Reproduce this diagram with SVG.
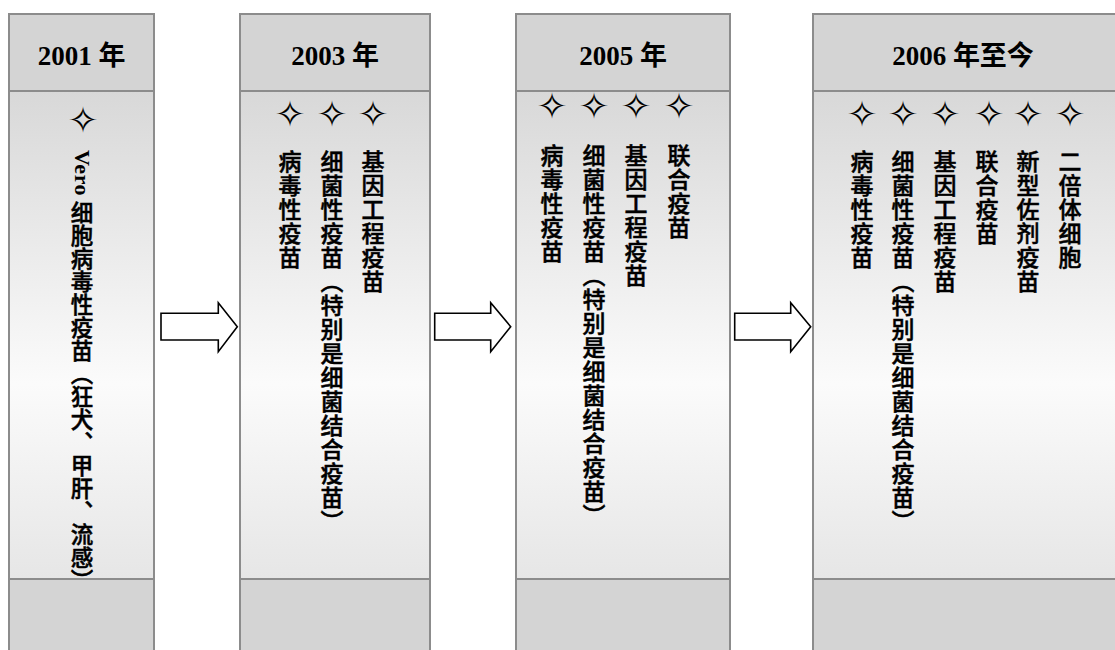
<svg xmlns="http://www.w3.org/2000/svg" width="1115" height="650" viewBox="0 0 1115 650">
  <defs>
    <linearGradient id="bodyGrad" x1="0" y1="0" x2="0" y2="1">
      <stop offset="0" stop-color="#d8d8d8"/>
      <stop offset="0.6" stop-color="#fbfbfb"/>
      <stop offset="1" stop-color="#e6e6e6"/>
    </linearGradient>
  </defs>
  <style>
    .hdr { fill: #d4d4d4; stroke: #8c8c8c; stroke-width: 2; }
    .body { fill: url(#bodyGrad); stroke: #8c8c8c; stroke-width: 2; }
    .foot { fill: #d4d4d4; stroke: #8c8c8c; stroke-width: 2; }
    .title { font-family: "Liberation Serif", "Noto Sans CJK SC", serif; font-weight: bold; font-size: 27px; fill: #000; text-anchor: middle; }
    .star { font-family: "DejaVu Sans", sans-serif; font-size: 37px; fill: #000; text-anchor: middle; dominant-baseline: central; }
    .v { font-family: "Noto Sans CJK SC", sans-serif; font-weight: 500; font-size: 23px; letter-spacing: 1px; fill: #000; stroke: #000; stroke-width: 0.5px; writing-mode: vertical-rl; }
    .v1 { font-size: 22.5px; letter-spacing: 0.5px; }
    .lat { font-family: "Liberation Serif", serif; font-weight: bold; font-size: 22px; stroke-width: 0; }
    .arrow { fill: #fff; stroke: #000; stroke-width: 1.6; stroke-linejoin: miter; }
  </style>

  <g id="col-2001">
    <rect class="foot" x="9" y="579" width="145" height="90"/>
    <rect class="body" x="9" y="91" width="145" height="488"/>
    <rect class="hdr" x="9" y="14" width="145" height="77"/>
    <text class="title" x="81.5" y="65">2001 年</text>
    <text class="star" x="83" y="120">✧</text>
    <text class="v v1" x="82" y="150"><tspan class="lat">Vero</tspan> 细胞病毒性疫苗（狂犬、甲肝、流感）</text>
  </g>

  <g id="col-2003">
    <rect class="foot" x="240" y="579" width="190" height="90"/>
    <rect class="body" x="240" y="91" width="190" height="488"/>
    <rect class="hdr" x="240" y="14" width="190" height="77"/>
    <text class="title" x="335" y="65">2003 年</text>
    <text class="star" x="290" y="114">✧</text>
    <text class="star" x="332" y="114">✧</text>
    <text class="star" x="373" y="114">✧</text>
    <text class="v" x="290" y="150">病毒性疫苗</text>
    <text class="v" x="332" y="150">细菌性疫苗（特别是细菌结合疫苗）</text>
    <text class="v" x="373" y="150">基因工程疫苗</text>
  </g>

  <g id="col-2005">
    <rect class="foot" x="516" y="579" width="214" height="90"/>
    <rect class="body" x="516" y="91" width="214" height="488"/>
    <rect class="hdr" x="516" y="14" width="214" height="77"/>
    <text class="title" x="623" y="65">2005 年</text>
    <text class="star" x="552" y="106">✧</text>
    <text class="star" x="594" y="106">✧</text>
    <text class="star" x="636" y="106">✧</text>
    <text class="star" x="679" y="106">✧</text>
    <text class="v" x="552" y="144">病毒性疫苗</text>
    <text class="v" x="594" y="144">细菌性疫苗（特别是细菌结合疫苗）</text>
    <text class="v" x="636" y="144">基因工程疫苗</text>
    <text class="v" x="679" y="144">联合疫苗</text>
  </g>

  <g id="col-2006">
    <rect class="foot" x="813" y="579" width="310" height="90"/>
    <rect class="body" x="813" y="91" width="310" height="488"/>
    <rect class="hdr" x="813" y="14" width="310" height="77"/>
    <text class="title" x="963" y="65">2006 年至今</text>
    <text class="star" x="862" y="114">✧</text>
    <text class="star" x="903" y="114">✧</text>
    <text class="star" x="945" y="114">✧</text>
    <text class="star" x="989" y="114">✧</text>
    <text class="star" x="1028" y="114">✧</text>
    <text class="star" x="1070" y="114">✧</text>
    <text class="v" x="862" y="150">病毒性疫苗</text>
    <text class="v" x="903" y="150">细菌性疫苗（特别是细菌结合疫苗）</text>
    <text class="v" x="945" y="150">基因工程疫苗</text>
    <text class="v" x="987" y="150">联合疫苗</text>
    <text class="v" x="1028" y="150">新型佐剂疫苗</text>
    <text class="v" x="1070" y="150">二倍体细胞</text>
  </g>

  <g id="connectors">
    <polygon class="arrow" points="161,313.3 218.3,313.3 218.3,302.7 237.3,326.7 218.3,351.7 218.3,340 161,340"/>
    <polygon class="arrow" points="434.7,313.3 490.7,313.3 490.7,302.7 510.7,326.7 490.7,351.7 490.7,340 434.7,340"/>
    <polygon class="arrow" points="734.7,313.3 790.7,313.3 790.7,302.7 810.7,326.7 790.7,351.7 790.7,340 734.7,340"/>
  </g>
</svg>
